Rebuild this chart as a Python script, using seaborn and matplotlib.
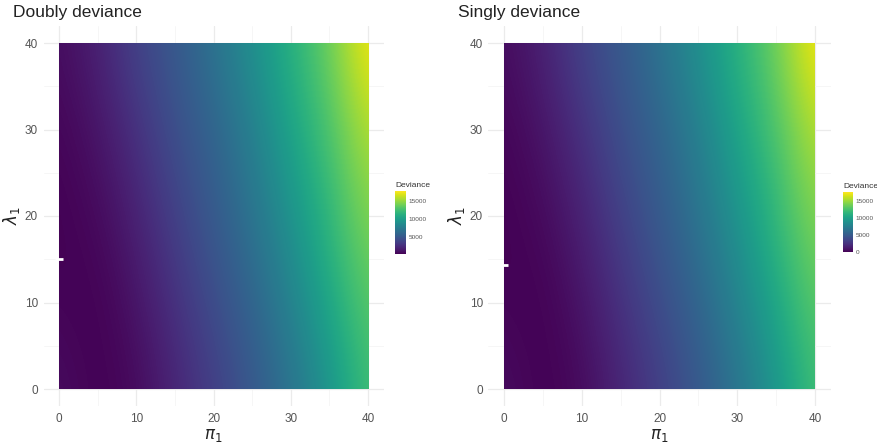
import numpy as np
import matplotlib
matplotlib.use("Agg")
import matplotlib.pyplot as plt
from matplotlib.patches import Rectangle
import seaborn as sns

# Parameter grid (pi_1 along columns, lambda_1 along rows)
pi_vals = [0, 5, 10, 15, 20, 25, 30, 35, 40]
lambda_vals = [0, 10, 20, 30, 40]

# Deviance surfaces, one row per lambda_1 value
doubly_dev = [
    [900, 320, 650, 2060, 3470, 5050, 6900, 9300, 12600],
    [480, 300, 1180, 2760, 4350, 5930, 8100, 10800, 13500],
    [330, 650, 1880, 3640, 5230, 6990, 9280, 11920, 14700],
    [480, 1180, 2760, 4520, 5930, 7870, 10510, 12970, 16000],
    [830, 1880, 3820, 5230, 6990, 9100, 11560, 14030, 17900],
]
singly_dev = [
    [600, 20, 360, 1780, 3200, 4810, 6700, 9100, 12400],
    [180, 0, 890, 2490, 4090, 5700, 7900, 10600, 13350],
    [30, 360, 1600, 3380, 4980, 6760, 9080, 11750, 14550],
    [180, 890, 2490, 4270, 5700, 7650, 10320, 12820, 15880],
    [530, 1600, 3560, 4980, 6760, 8900, 11390, 13880, 17800],
]

# Estimated lambda_1 at pi_1 = 0 (white marker)
doubly_est = (0, 15.0)
singly_est = (0, 14.3)

titles = ["Doubly deviance", "Singly deviance"]
cbar_ticks = [[5000, 10000, 15000], [0, 5000, 10000, 15000]]

sns.set_theme(style="whitegrid")
plt.rcParams["font.family"] = ["Liberation Sans", "DejaVu Sans"]

W, H = 877, 445
fig = plt.figure(figsize=(W / 100, H / 100), dpi=100)


def fx(px):
    return px / W


def fy(px_top, px_bottom):
    return (H - px_bottom) / H, (px_bottom - px_top) / H


panels = [
    dict(ax=(43.5, 383.5), cb=(395, 406, 191, 254), ylab=22),
    dict(ax=(488.5, 830.5), cb=(843, 853, 192, 252), ylab=467),
]

for i, (Z, est) in enumerate([(doubly_dev, doubly_est), (singly_dev, singly_est)]):
    Z = np.asarray(Z, dtype=float)
    x0, x1 = panels[i]["ax"]
    b, h = fy(25.7, 406.3)
    ax = fig.add_axes([fx(x0), b, fx(x1 - x0), h])
    ax.set_facecolor("white")

    dp = pi_vals[1] - pi_vals[0]
    dl = lambda_vals[1] - lambda_vals[0]
    im = ax.imshow(
        Z, origin="lower", cmap="viridis", interpolation="bicubic",
        extent=(pi_vals[0] - dp / 2, pi_vals[-1] + dp / 2,
                lambda_vals[0] - dl / 2, lambda_vals[-1] + dl / 2),
        aspect="auto", vmin=Z.min(), vmax=Z.max(), zorder=2,
    )
    im.set_clip_path(Rectangle((pi_vals[0], lambda_vals[0]),
                               pi_vals[-1] - pi_vals[0],
                               lambda_vals[-1] - lambda_vals[0],
                               transform=ax.transData))

    ax.plot([est[0]], [est[1]], marker="_", color="white", markersize=6,
            mew=2, clip_on=False, zorder=3)

    ax.set_xlim(-2, 42)
    ax.set_ylim(-2, 42)
    ax.set_xticks([0, 10, 20, 30, 40])
    ax.set_yticks([0, 10, 20, 30, 40])
    ax.set_xticks([5, 15, 25, 35], minor=True)
    ax.set_yticks([5, 15, 25, 35], minor=True)
    ax.grid(True, which="major", color="#ebebeb", linewidth=0.9, zorder=0)
    ax.grid(True, which="minor", color="#f3f3f3", linewidth=0.5, zorder=0)
    for s in ax.spines.values():
        s.set_visible(False)
    ax.tick_params(which="both", length=0, labelsize=8.5, labelcolor="#555555")
    ax.tick_params(axis="x", pad=5)
    ax.tick_params(axis="y", pad=4)
    ax.set_xlabel(r"$\pi_1$", fontsize=12, color="#222222")
    ax.set_ylabel(r"$\lambda_1$", fontsize=12, color="#222222")
    ax.xaxis.set_label_coords(0.5, -0.055)
    ax.yaxis.set_label_coords(-(x0 - panels[i]["ylab"]) / (x1 - x0), 0.5)
    fig.text(fx(x0 - 30.5 if i == 0 else x0 - 30), 1 - 12 / H, titles[i],
             fontsize=12.5, color="#222222", va="center", ha="left")

    c0, c1, ct, cbm = panels[i]["cb"]
    cb_b, cb_h = fy(ct, cbm)
    cax = fig.add_axes([fx(c0), cb_b, fx(c1 - c0), cb_h])
    cb = fig.colorbar(im, cax=cax, ticks=cbar_ticks[i])
    cb.outline.set_visible(False)
    cax.tick_params(length=0, labelsize=4.6, labelcolor="#555555", pad=2)
    cax.set_title("Deviance", fontsize=6, color="#333333", loc="left", pad=3)

fig.savefig("out.png", dpi=100)
